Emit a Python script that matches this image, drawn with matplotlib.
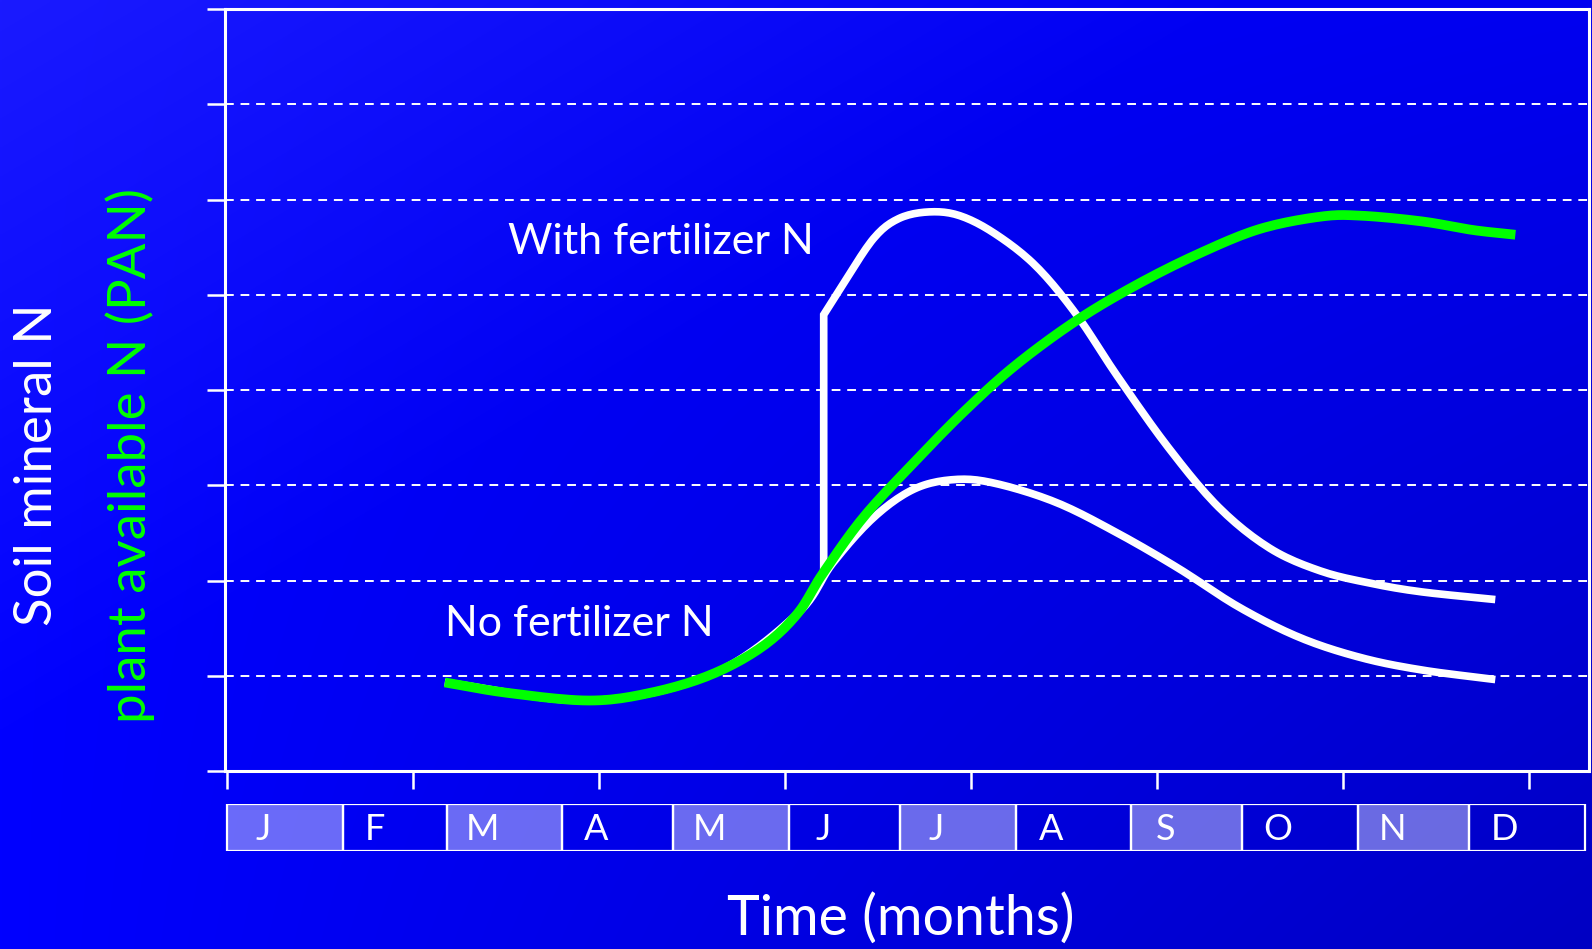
import matplotlib
matplotlib.use("Agg")
import matplotlib.pyplot as plt
from matplotlib.patches import Rectangle
import numpy as np

plt.rcParams['font.family'] = ['Lato', 'DejaVu Sans']

# months and their lengths (days) for the bar under the axis
months = ['J', 'F', 'M', 'A', 'M', 'J', 'J', 'A', 'S', 'O', 'N', 'D']
month_days = [31, 28, 31, 30, 31, 30, 31, 31, 30, 31, 30, 31]
shaded = [True, False, True, False, True, False, True, False, True, False, True, False]

# plant available N (green), day of year vs. relative level
pan_day = [58.5, 75.4, 97.3, 113.7, 130, 143.7, 153.3, 160.1, 171, 184.7, 198.3, 212,
           228.4, 244.8, 261.2, 277.6, 294, 304.9, 321.3, 334.9, 346.4]
pan_val = [0.93, 0.82, 0.74, 0.82, 1.01, 1.30, 1.65, 2.07, 2.66, 3.24, 3.78, 4.26,
           4.73, 5.11, 5.43, 5.69, 5.82, 5.83, 5.77, 5.68, 5.63]

# soil mineral N, no fertilizer
nofert_day = [58.5, 97.3, 130, 153.3, 162.8, 173.8, 184.7, 195.6, 206.5, 222.9,
              239.3, 255.7, 272.1, 288.5, 304.9, 321.3, 341]
nofert_val = [0.93, 0.74, 1.01, 1.65, 2.18, 2.66, 2.96, 3.06, 3.02, 2.82,
              2.50, 2.13, 1.72, 1.40, 1.19, 1.06, 0.96]

# soil mineral N, with fertilizer (applied at ~day 160)
fert_day = [160.4, 160.4, 165.6, 173.8, 180.6, 188.8, 197, 206.5, 217.5, 228.4,
            239.3, 253, 266.6, 280.3, 294, 307.6, 321.3, 341]
fert_val = [2.07, 4.79, 5.11, 5.59, 5.80, 5.87, 5.83, 5.64, 5.30, 4.79,
            4.15, 3.40, 2.77, 2.34, 2.10, 1.97, 1.88, 1.80]


def smooth(xs, ys, n=12):
    # simple Catmull-Rom through the read points
    xs = np.asarray(xs, float)
    ys = np.asarray(ys, float)
    px = np.concatenate([[2*xs[0]-xs[1]], xs, [2*xs[-1]-xs[-2]]])
    py = np.concatenate([[2*ys[0]-ys[1]], ys, [2*ys[-1]-ys[-2]]])
    outx, outy = [], []
    t = np.linspace(0, 1, n, endpoint=False)
    for i in range(1, len(px)-2):
        for p, out in ((px, outx), (py, outy)):
            p0, p1, p2, p3 = p[i-1], p[i], p[i+1], p[i+2]
            out.extend(0.5*((2*p1) + (-p0+p2)*t + (2*p0-5*p1+4*p2-p3)*t**2
                            + (-p0+3*p1-3*p2+p3)*t**3))
    outx.append(xs[-1])
    outy.append(ys[-1])
    return np.array(outx), np.array(outy)


fig = plt.figure(figsize=(15.92, 9.49), dpi=100)

# gradient background
H, W = 300, 500
xx, yy = np.meshgrid(np.linspace(0, 1, W), np.linspace(0, 1, H))
rg = np.clip(26*(1 - (xx + yy)/0.8), 0, 255)
bb = 255 - 15*xx - 45*xx*yy
bg = np.dstack([rg, rg, bb]) / 255.0
bax = fig.add_axes([0, 0, 1, 1], zorder=-1)
bax.imshow(bg, aspect='auto', extent=[0, 1, 0, 1], interpolation='bilinear')
bax.axis('off')

left, right = 225/1592, 1589/1592
ax = fig.add_axes([left, 1-771/949, right-left, (771-9)/949])
ax.set_facecolor('none')
ax.set_xlim(-0.6, 366.2)
ax.set_ylim(0, 8)

for s in ax.spines.values():
    s.set_color('white')
    s.set_linewidth(2.2)

ax.set_yticks(range(0, 9))
ax.set_xticks(range(0, 351, 50))
ax.tick_params(colors='white', width=1.8, length=13, labelleft=False, labelbottom=False)
for yv in range(1, 8):
    ax.axhline(yv, color='white', lw=1.4, ls=(0, (4.5, 3.5)), zorder=1)

x1, y1 = smooth(nofert_day, nofert_val)
ax.plot(x1, y1, color='white', lw=5.5, solid_capstyle='butt', zorder=3)
x2, y2 = smooth(fert_day[1:], fert_val[1:])
ax.plot(np.r_[fert_day[0], x2], np.r_[fert_val[0], y2], color='white', lw=5.5,
        solid_capstyle='butt', solid_joinstyle='miter', zorder=3)
x3, y3 = smooth(pan_day, pan_val)
ax.plot(x3, y3, color='#00ff00', lw=7, solid_capstyle='butt', zorder=4)

ax.text(75.4, 5.55, 'With fertilizer N', color='white', fontsize=31, va='center', ha='left')
ax.text(58.5, 1.54, 'No fertilizer N', color='white', fontsize=31, va='center', ha='left')

# month bar
mb = fig.add_axes([left, 1-851/949, right-left, 47/949])
mb.set_xlim(ax.get_xlim())
mb.set_ylim(0, 1)
mb.axis('off')
start = 0
for m, d, sh in zip(months, month_days, shaded):
    mb.add_patch(Rectangle((start, 0), d, 1, facecolor=(1, 1, 1, 0.42) if sh else 'none',
                           edgecolor='white', lw=1.6))
    mb.text(start + 0.31*d, 0.46, m, color='white', fontsize=26, ha='center', va='center')
    start += d

fig.text(0.5657, 0.0316, 'Time (months)', color='white', fontsize=40, ha='center', va='center')
fig.text(0.0236, 0.51, 'Soil mineral N', color='white', fontsize=38, rotation=90,
         ha='center', va='center')
fig.text(0.0817, 0.5205, 'plant available N (PAN)', color='#00ff00', fontsize=38, rotation=90,
         ha='center', va='center')

fig.savefig('out.png', dpi=100)
